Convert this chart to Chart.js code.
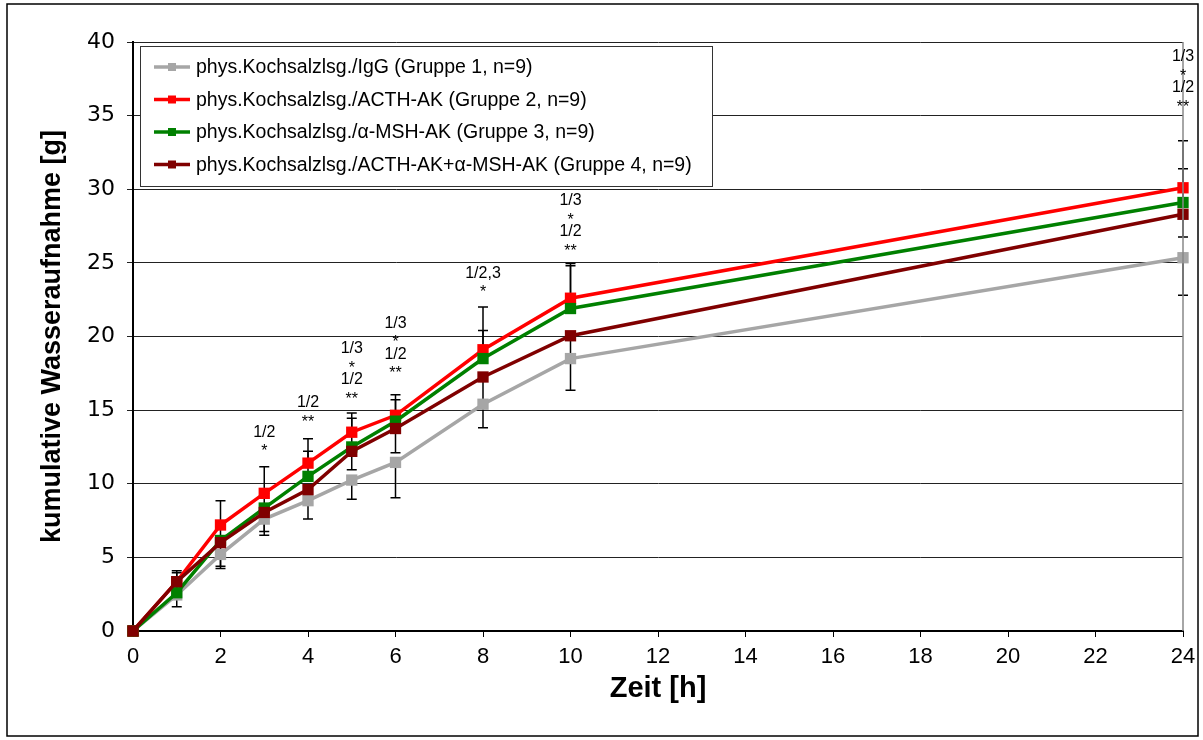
<!DOCTYPE html>
<html>
<head>
<meta charset="utf-8">
<script src="https://cdn.jsdelivr.net/npm/chart.js@4.4.1/dist/chart.umd.min.js"></script>
<style>
  html, body { margin: 0; padding: 0; background: #fff; }
  #wrap { width: 1203px; height: 740px; position: relative; }
</style>
</head>
<body>
<div id="wrap"><canvas id="chart"></canvas></div>
<script>
// time points (h)
const hours = [0, 1, 2, 3, 4, 5, 6, 8, 10, 24];

const seriesNames = [
  'phys.Kochsalzlsg./IgG (Gruppe 1, n=9)',
  'phys.Kochsalzlsg./ACTH-AK (Gruppe 2, n=9)',
  'phys.Kochsalzlsg./α-MSH-AK (Gruppe 3, n=9)',
  'phys.Kochsalzlsg./ACTH-AK+α-MSH-AK (Gruppe 4, n=9)',
];
const seriesColors = ['#a6a6a6', '#ff0000', '#008000', '#800000'];

// cumulative water intake [g]
const gruppe1 = [0, 2.45, 5.2, 7.6, 8.85, 10.25, 11.45, 15.4, 18.5, 25.35];
const gruppe2 = [0, 3.35, 7.2, 9.35, 11.4, 13.5, 14.65, 19.1, 22.6, 30.1];
const gruppe3 = [0, 2.6, 6.15, 8.35, 10.5, 12.5, 14.25, 18.5, 21.9, 29.1];
const gruppe4 = [0, 3.35, 6.0, 8.05, 9.6, 12.2, 13.75, 17.25, 20.05, 28.3];

// error bars (SEM), drawn one-sided: up (+1) or down (-1)
const err1 = [0, 0.8, 0.95, 1.1, 1.25, 1.3, 2.4, 1.6, 2.15, 2.55];
const err2 = [0, 0.75, 1.65, 1.8, 1.65, 1.3, 1.4, 2.9, 2.35, 3.2];
const err3 = [0, 1.35, 1.0, 1.0, 1.7, 1.95, 1.45, 1.9, 2.9, 2.3];
const err4 = [0, 0.7, 1.6, 1.3, 0.8, 1.25, 1.65, 1.8, 1.6, 1.55];
const errDir = [-1, 1, 1, -1];

// significance marks above the time points
const sigHours = [3, 4, 5, 6, 8, 10, 24];
const sigLines = [
  ['1/2', '*'],
  ['1/2', '**'],
  ['1/3', '*', '1/2', '**'],
  ['1/3', '*', '1/2', '**'],
  ['1/2,3', '*'],
  ['1/3', '*', '1/2', '**'],
  ['1/3', '*', '1/2', '**'],
];
const sigTop = [13.5, 15.5, 19.15, 20.9, 24.3, 29.2, 39.0];

const series = [gruppe1, gruppe2, gruppe3, gruppe4];
const errors = [err1, err2, err3, err4];

const errorBars = {
  id: 'errorBars',
  beforeDatasetsDraw(chart) {
    const { ctx, scales: { x, y } } = chart;
    ctx.save();
    ctx.strokeStyle = '#000';
    ctx.lineWidth = 1.5;
    series.forEach((vals, i) => {
      vals.forEach((v, j) => {
        const e = errors[i][j];
        if (!e) return;
        const px = x.getPixelForValue(hours[j]);
        const y0 = y.getPixelForValue(v);
        const y1 = y.getPixelForValue(v + errDir[i] * e);
        ctx.beginPath();
        ctx.moveTo(px, y0); ctx.lineTo(px, y1);
        ctx.moveTo(px - 5, y1); ctx.lineTo(px + 5, y1);
        ctx.stroke();
      });
    });
    ctx.restore();
  },
};

const decorations = {
  id: 'decorations',
  afterDraw(chart) {
    const { ctx, chartArea: a, scales: { x, y } } = chart;
    ctx.save();
    // right border of plot
    ctx.strokeStyle = '#888';
    ctx.lineWidth = 1.5;
    ctx.beginPath(); ctx.moveTo(a.right, a.top); ctx.lineTo(a.right, a.bottom); ctx.stroke();

    // significance text
    ctx.fillStyle = '#000';
    ctx.font = '16px "Liberation Sans", Arial, sans-serif';
    ctx.textAlign = 'center';
    ctx.textBaseline = 'middle';
    sigHours.forEach((h, i) => {
      const px = x.getPixelForValue(h);
      const top = y.getPixelForValue(sigTop[i]);
      sigLines[i].forEach((t, k) => {
        const star = t[0] === '*';
        ctx.fillText(t, px, top + k * 15.5 + (star ? 4 : 0));
      });
    });

    // legend box
    const bx = 140, by = 46, bw = 572, bh = 140;
    ctx.fillStyle = '#fff';
    ctx.fillRect(bx, by, bw, bh);
    ctx.strokeStyle = '#333';
    ctx.lineWidth = 1;
    ctx.strokeRect(bx + 0.5, by + 0.5, bw, bh);
    ctx.font = '19.5px "Liberation Sans", Arial, sans-serif';
    ctx.textAlign = 'left';
    seriesNames.forEach((name, i) => {
      const ry = 67 + i * 32.5;
      ctx.strokeStyle = seriesColors[i];
      ctx.lineWidth = 3.5;
      ctx.beginPath(); ctx.moveTo(154, ry); ctx.lineTo(190, ry); ctx.stroke();
      ctx.fillStyle = seriesColors[i];
      ctx.fillRect(168, ry - 4, 8, 8);
      ctx.fillStyle = '#000';
      ctx.fillText(name, 196, ry + 1);
    });

    // outer frame
    ctx.strokeStyle = '#000';
    ctx.lineWidth = 1.5;
    ctx.strokeRect(7, 4, 1191, 732);
    ctx.restore();
  },
};

const order = [4, 3, 2, 1];
new Chart(document.getElementById('chart'), {
  type: 'line',
  data: {
    datasets: series.map((vals, i) => ({
      label: seriesNames[i],
      data: vals.map((v, j) => ({ x: hours[j], y: v })),
      borderColor: seriesColors[i],
      backgroundColor: seriesColors[i],
      borderWidth: 3.5,
      pointStyle: 'rect',
      pointRadius: 8,
      pointBorderWidth: 0,
      tension: 0,
      clip: false,
      order: order[i],
    })),
  },
  options: {
    responsive: true,
    maintainAspectRatio: false,
    animation: false,
    events: [],
    layout: { padding: { left: 20, right: 20, top: 42, bottom: 10 } },
    plugins: { legend: { display: false }, tooltip: { enabled: false } },
    scales: {
      x: {
        type: 'linear', min: 0, max: 24,
        ticks: { stepSize: 2, color: '#000', padding: 7, font: { family: '"Liberation Sans", Arial, sans-serif', size: 22 } },
        grid: { drawOnChartArea: false, drawTicks: true, tickLength: 6, color: '#000' },
        border: { color: '#000', width: 2 },
        title: { display: true, text: 'Zeit [h]', color: '#000', padding: { top: 0, bottom: 24 }, font: { family: '"Liberation Sans", Arial, sans-serif', size: 29, weight: 'bold' } },
        afterFit(s) { s.height = 99; s.paddingLeft = 0; s.paddingRight = 0; },
      },
      y: {
        min: 0, max: 40,
        ticks: { stepSize: 5, color: '#000', padding: 12, font: { family: '"DejaVu Sans", sans-serif', size: 22 } },
        grid: { color: '#222', lineWidth: 1, drawTicks: true, tickLength: 6 },
        border: { color: '#000', width: 2 },
        title: { display: true, text: 'kumulative Wasseraufnahme [g]', color: '#000', padding: { top: 16, bottom: 0 }, font: { family: '"Liberation Sans", Arial, sans-serif', size: 27, weight: 'bold' } },
        afterFit(s) { s.width = 113; s.paddingTop = 0; s.paddingBottom = 0; },
      },
    },
  },
  plugins: [errorBars, decorations],
});
</script>
</body>
</html>
